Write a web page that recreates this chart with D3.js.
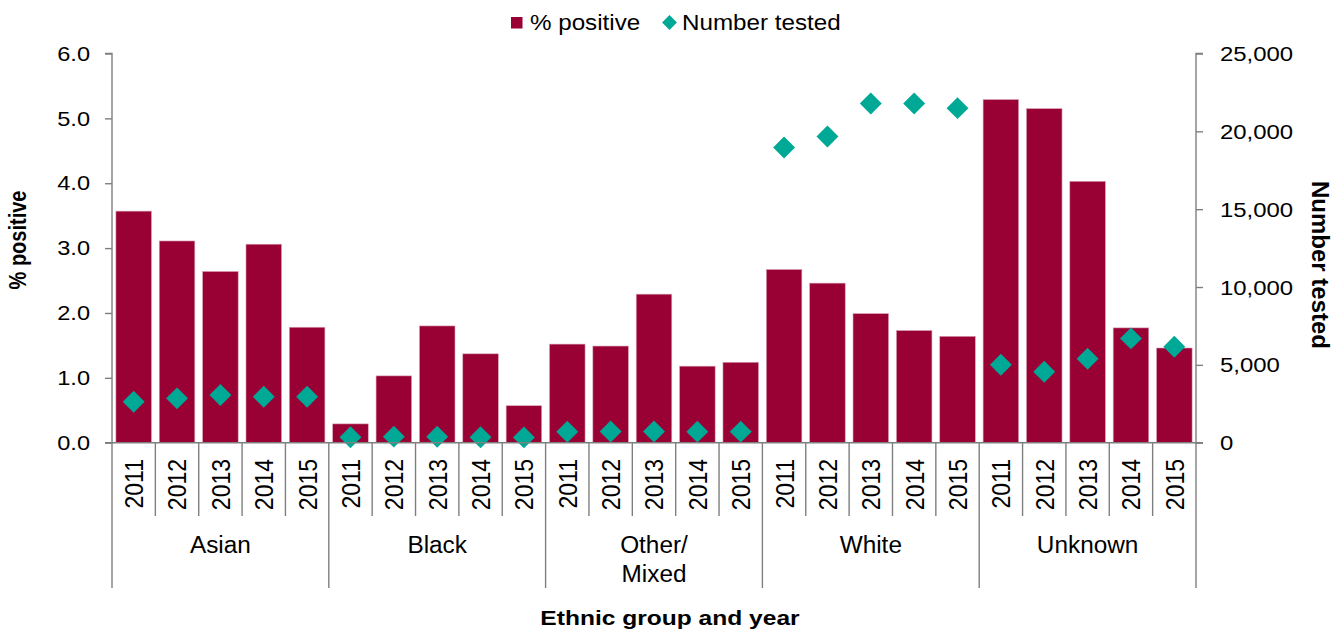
<!DOCTYPE html>
<html>
<head>
<meta charset="utf-8">
<script src="https://cdn.jsdelivr.net/npm/d3@7"></script>
<style>
  html, body { margin: 0; padding: 0; background: #fff; }
  svg { display: block; font-family: "Liberation Sans", Arial, sans-serif; }
</style>
</head>
<body>
<svg id="chart" width="1344" height="635"></svg>
<script>
// ---- data ----
const groups = ["Asian", "Black", "Other/ Mixed", "White", "Unknown"];
const years = ["2011", "2012", "2013", "2014", "2015"];

const pctAsian   = [3.57, 3.11, 2.64, 3.06, 1.78];
const pctBlack   = [0.29, 1.03, 1.80, 1.37, 0.57];
const pctOther   = [1.52, 1.49, 2.29, 1.18, 1.24];
const pctWhite   = [2.67, 2.46, 1.99, 1.73, 1.64];
const pctUnknown = [5.29, 5.15, 4.03, 1.77, 1.46];

const testedAsian   = [2630, 2850, 3060, 2950, 2950];
const testedBlack   = [350, 390, 380, 350, 340];
const testedOther   = [700, 720, 720, 710, 710];
const testedWhite   = [18960, 19670, 21790, 21790, 21490];
const testedUnknown = [5010, 4560, 5390, 6700, 6160];

const leftTicks  = [0, 1, 2, 3, 4, 5, 6];
const rightTicks = [0, 5000, 10000, 15000, 20000, 25000];

const seriesNames = ["% positive", "Number tested"];

// ---- build rows ----
const pctByGroup = [pctAsian, pctBlack, pctOther, pctWhite, pctUnknown];
const testedByGroup = [testedAsian, testedBlack, testedOther, testedWhite, testedUnknown];
const rows = [];
groups.forEach((g, gi) => years.forEach((y, yi) => {
  rows.push({ key: g + "|" + y, group: g, gi, year: y, pct: pctByGroup[gi][yi], tested: testedByGroup[gi][yi] });
}));

// ---- layout ----
const svg = d3.select("#chart");
const L = 112, R = 1196, T = 53.5, B = 442.7;
const barColor = "#990033", dotColor = "#00A896", axisColor = "#7f7f7f";

const x = d3.scaleBand().domain(rows.map(d => d.key)).range([L, R]).paddingInner(0.18).paddingOuter(0.09);
const xs = d3.scaleBand().domain(rows.map(d => d.key)).range([L, R]).padding(0);
const yL = d3.scaleLinear().domain([0, 6]).range([B, T]);
const yR = d3.scaleLinear().domain([0, 25000]).range([B, T]);

function stext(sel, px, py, txt, opt) {
  const g = sel.append("g").attr("transform", `translate(${px},${py}) scale(${opt.sx || 1},1)`);
  return g.append("text").attr("x", 0).attr("y", 0)
    .attr("text-anchor", opt.anchor || "start")
    .attr("font-size", opt.size || 20)
    .attr("font-weight", opt.weight || "normal")
    .attr("fill", "#000")
    .text(txt);
}

// bars
svg.append("g").selectAll("rect").data(rows).join("rect")
  .attr("x", d => x(d.key)).attr("width", x.bandwidth())
  .attr("y", d => yL(d.pct)).attr("height", d => yL(0) - yL(d.pct))
  .attr("fill", barColor).attr("stroke", "#d9a3b6").attr("stroke-width", 0.6);

// diamonds
const diamond = d3.symbol().type(d3.symbolSquare).size(240);
svg.append("g").selectAll("path").data(rows).join("path")
  .attr("d", diamond)
  .attr("transform", d => `translate(${xs(d.key) + xs.bandwidth() / 2},${yR(d.tested)}) rotate(45)`)
  .attr("fill", dotColor);

// left axis
const gl = svg.append("g").attr("transform", `translate(${L},0)`)
  .call(d3.axisLeft(yL).tickValues(leftTicks).tickSize(7).tickFormat(() => ""));
gl.selectAll("path,line").attr("stroke", axisColor).attr("stroke-width", 1.4);
gl.select(".domain").attr("d", `M-7,${T}H0V${B}H-7`);
leftTicks.forEach(v => stext(svg, 90, yL(v) + 7.2, d3.format(".1f")(v), { anchor: "end", size: 20, sx: 1.18 }));

// right axis
const gr = svg.append("g").attr("transform", `translate(${R},0)`)
  .call(d3.axisRight(yR).tickValues(rightTicks).tickSize(7).tickFormat(() => ""));
gr.selectAll("path,line").attr("stroke", axisColor).attr("stroke-width", 1.4);
gr.select(".domain").attr("d", `M7,${T}H0V${B}H7`);
rightTicks.forEach(v => stext(svg, 1220, yR(v) + 7.5, d3.format(",")(v), { anchor: "start", size: 21, sx: 1.14 }));

// x baseline
svg.append("line").attr("x1", L).attr("x2", R).attr("y1", B).attr("y2", B)
  .attr("stroke", axisColor).attr("stroke-width", 1.4);

// category separators
const sepG = svg.append("g").attr("stroke", axisColor).attr("stroke-width", 1.4);
rows.forEach((d, i) => {
  const xx = xs(d.key);
  const isGroupEdge = i % years.length === 0;
  sepG.append("line").attr("x1", xx).attr("x2", xx).attr("y1", B).attr("y2", isGroupEdge ? 588 : 516);
});
sepG.append("line").attr("x1", R).attr("x2", R).attr("y1", B).attr("y2", 588);

// year labels
rows.forEach(d => {
  const cx = xs(d.key) + xs.bandwidth() / 2;
  svg.append("text")
    .attr("transform", `translate(${cx},459) scale(1.14,1) rotate(-90)`)
    .attr("text-anchor", "end").attr("dy", "0.36em")
    .attr("font-size", 23).attr("fill", "#000").text(d.year);
});

// group labels
groups.forEach((g, gi) => {
  const first = xs(rows[gi * years.length].key);
  const last = xs(rows[gi * years.length + years.length - 1].key) + xs.bandwidth();
  const cx = (first + last) / 2;
  const lines = g.split(" ");
  lines.forEach((ln, li) => stext(svg, cx, 552.5 + li * 29, ln, { anchor: "middle", size: 23, sx: 1.06 }));
});

// axis titles
stext(svg, 670, 625, "Ethnic group and year", { anchor: "middle", size: 21, weight: "bold", sx: 1.17 });
svg.append("text").attr("transform", "translate(26,240) scale(1.22,1) rotate(-90)")
  .attr("text-anchor", "middle").attr("font-size", 20).attr("font-weight", "bold").text("% positive");
svg.append("text").attr("transform", "translate(1312,265) rotate(90)")
  .attr("text-anchor", "middle").attr("font-size", 24).attr("font-weight", "bold").text("Number tested");

// legend
svg.append("rect").attr("x", 511).attr("y", 17).attr("width", 11.5).attr("height", 11.5).attr("fill", barColor);
stext(svg, 530, 29.5, seriesNames[0], { size: 22, sx: 1.1 });
svg.append("path").attr("d", d3.symbol().type(d3.symbolSquare).size(110))
  .attr("transform", "translate(669.5,22.5) rotate(45)").attr("fill", dotColor);
stext(svg, 682, 29.5, seriesNames[1], { size: 22, sx: 1.1 });
</script>
</body>
</html>
